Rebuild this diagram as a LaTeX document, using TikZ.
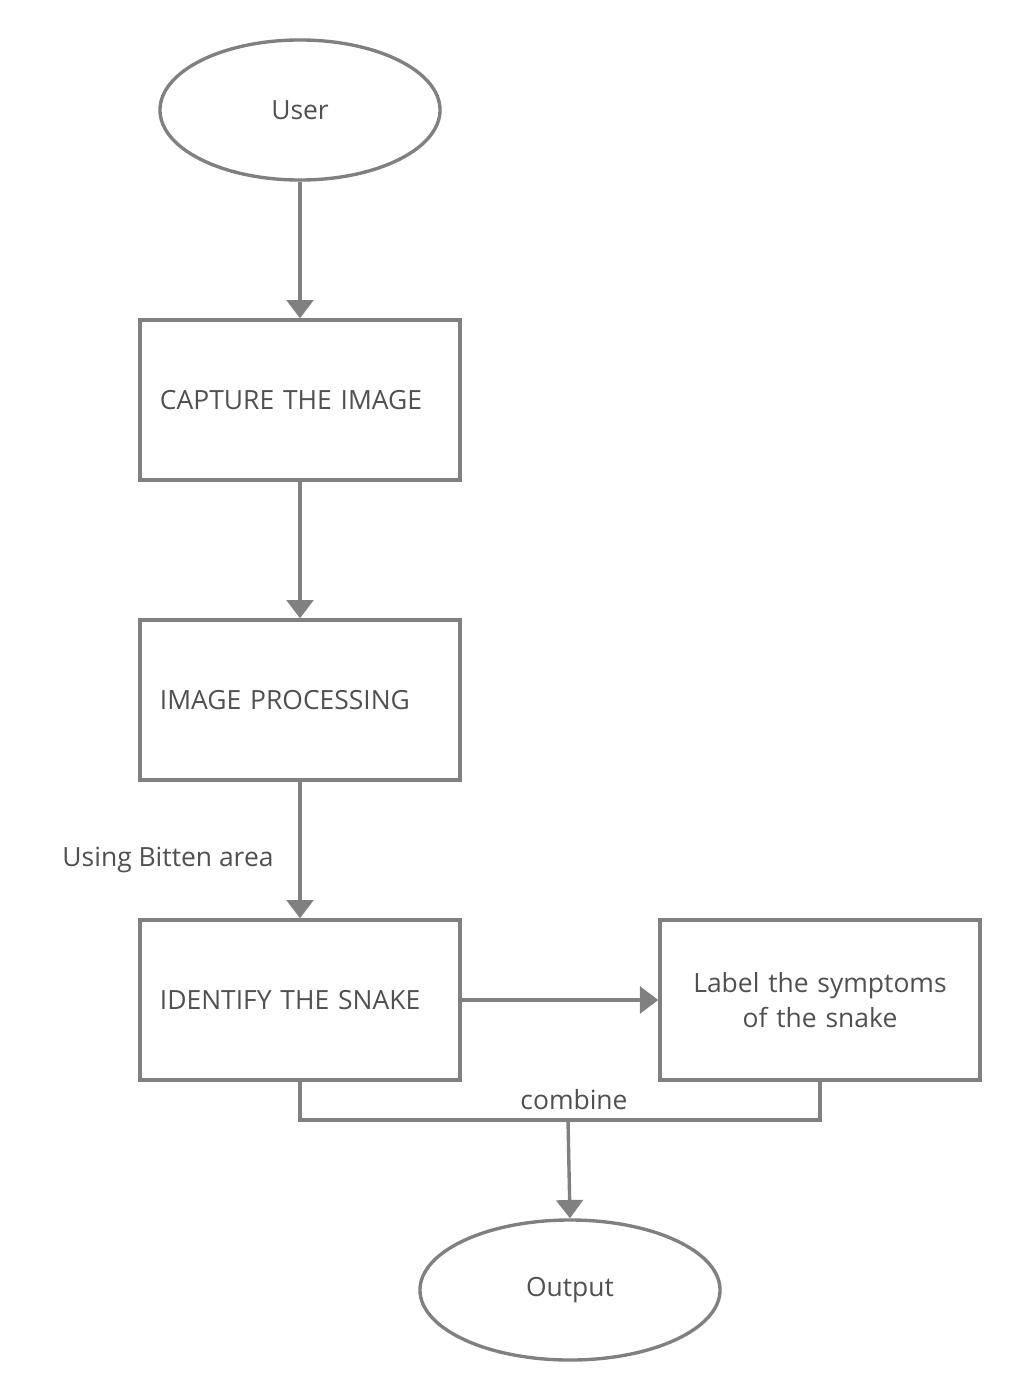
\documentclass[tikz,border=0pt]{standalone}
\usepackage{fontspec}
\setmainfont{Open Sans}
\usepackage{tikz}
\usetikzlibrary{positioning}
\usetikzlibrary{shapes.geometric,arrows.meta}

\definecolor{linegray}{RGB}{128,128,128}
\definecolor{textgray}{RGB}{80,80,80}

\begin{document}
\begin{tikzpicture}[x=0.025cm,y=-0.025cm,
		every node/.style={text=textgray,font=\fontsize{18.8}{25}\selectfont},
		oval/.style={ellipse,draw=linegray,line width=2.4pt,inner sep=0pt,minimum height=3.5cm},
		stepbox/.style={rectangle,draw=linegray,line width=2.4pt,minimum width=8cm,minimum height=4cm,
			text width=7cm,inner xsep=0.5cm,align=left},
		flow/.style={draw=linegray,line width=2.4pt,-{Triangle[width=19pt,length=13pt]}}]
		\useasboundingbox (0,0) rectangle (1020,1400);

		\node[oval,minimum width=7cm] (user) at (300,110) {User};
		\node[stepbox] (capture) at (300,400) {CAPTURE THE IMAGE};
		\node[stepbox] (process) at (300,700) {IMAGE PROCESSING};
		\node[stepbox] (identify) at (300,1000) {IDENTIFY THE SNAKE};
		\node[stepbox,align=center] (symptoms) at (820,1000) {Label the symptoms\\of the snake};
		\node[oval,minimum width=7.5cm] (output) at (570,1290) {Output};

		\node (bitten) at (168,860) {Using Bitten area};
		\node (combine) at (574,1100) {combine};
		\coordinate (join) at (568,1120);

		\draw[flow] (user) -- (capture);
		\draw[flow] (capture) -- (process);
		\draw[flow] (process) -- (identify);
		\draw[flow] (identify) -- (symptoms);
		\draw[linegray,line width=2.4pt] (identify.south) |- (join) -| (symptoms.south);
		\draw[flow] (join) -- (output.north);
	\end{tikzpicture}
\end{document}
